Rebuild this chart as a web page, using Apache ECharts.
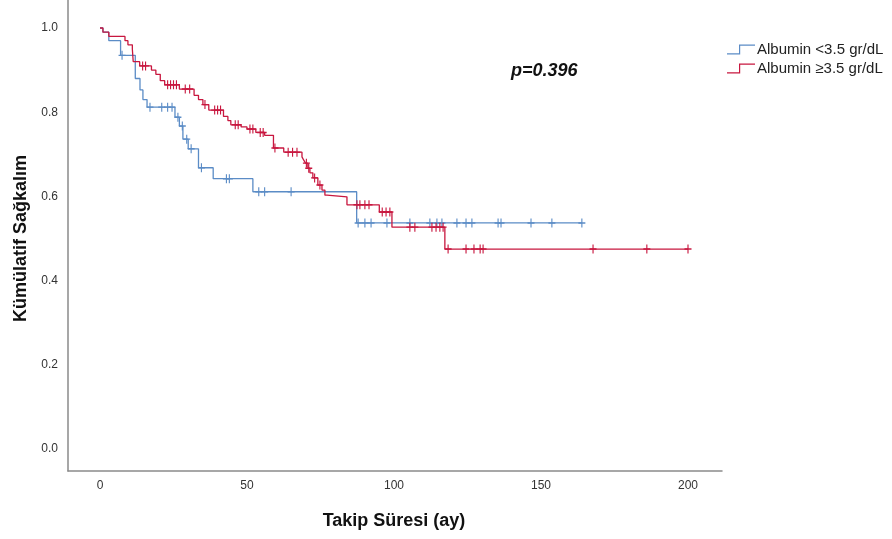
<!DOCTYPE html>
<html>
<head>
<meta charset="utf-8">
<script src="https://cdn.jsdelivr.net/npm/echarts@6/dist/echarts.min.js"></script>
<style>
html,body{margin:0;padding:0;background:#fff;}
#chart{width:892px;height:539px;}
</style>
</head>
<body>
<div id="chart"></div>
<script>
// ---- data ----
const seriesNames = ['Albumin <3.5 gr/dL', 'Albumin \u22653.5 gr/dL'];
const xTicks = [0, 50, 100, 150, 200];
const yTicks = [0.0, 0.2, 0.4, 0.6, 0.8, 1.0];

const blueTimes = [0, 1, 3, 7, 12, 13.6, 14.6, 16, 25.5, 27, 28.2, 30, 33.5, 38.5, 52, 87.3];
const blueSurv  = [1.0, 0.99, 0.97, 0.935, 0.88, 0.853, 0.83, 0.812, 0.788, 0.767, 0.736, 0.713, 0.668, 0.642, 0.611, 0.537];
const blueCensor = [7.5, 17, 21, 23, 24.5, 26.5, 28, 29.5, 31, 34.5, 43, 44, 54, 56, 65, 87.8, 90.1, 92.2, 97.6, 105.4, 112.2, 114.6, 116.3, 121.4, 124.5, 126.5, 135.4, 136.4, 146.6, 153.7, 163.9];

const redTimes = [0, 1, 3, 8.5, 9.5, 11, 11.3, 13.5, 17.5, 19, 20.5, 22, 27, 32, 33.5, 35, 37, 42, 43.5, 44.5, 48, 50, 53, 56, 59, 62.5, 68.7, 69.3, 69.9, 70.7, 71.4, 72.4, 74.1, 75.5, 76.5, 77.2, 84, 95, 99.3, 117.3];
const redSurv  = [1.0, 0.99, 0.98, 0.97, 0.96, 0.95, 0.92, 0.91, 0.90, 0.89, 0.875, 0.865, 0.855, 0.84, 0.83, 0.818, 0.805, 0.79, 0.78, 0.77, 0.765, 0.76, 0.752, 0.745, 0.715, 0.705, 0.694, 0.686, 0.679, 0.667, 0.656, 0.644, 0.627, 0.615, 0.603, 0.599, 0.58, 0.563, 0.527, 0.475];
const redCensor = [14.5, 15.5, 23, 24, 25, 26, 29, 30.5, 35.7, 39, 40, 41, 46, 47, 51, 52, 54.5, 55.5, 59.5, 64, 65.5, 67, 70.2, 71, 73, 74.8, 87.4, 88.4, 90.1, 91.5, 96, 97.3, 98.6, 105.4, 107.1, 112.9, 114.3, 115.6, 116.7, 118.4, 124.5, 127.2, 129.3, 130.3, 167.7, 186, 200];

const pText = 'p=0.396';

// ---- helpers ----
function stepValue(times, surv, t) {
  let v = surv[0];
  for (let i = 0; i < times.length; i++) { if (times[i] <= t) v = surv[i]; }
  return v;
}
function curve(times, surv, censor) {
  const pts = times.map((t, i) => [t, surv[i]]);
  const last = censor[censor.length - 1];
  pts.push([last, stepValue(times, surv, last)]);
  return pts;
}
function censorPts(times, surv, censor) {
  return censor.map(t => [t, stepValue(times, surv, t)]);
}

const BLUE = '#5b8cc6';
const RED = '#c8173f';
const plus = 'path://M4.2,0H5.8V4.2H10V5.8H5.8V10H4.2V5.8H0V4.2H4.2Z';
const legendIcon = 'path://M0,8.8H12V0H28V1.2H13.2V10H0Z';
const FONT = '"Liberation Sans", Arial, sans-serif';

const chart = echarts.init(document.getElementById('chart'), null, {renderer: 'canvas'});
chart.setOption({
  animation: false,
  backgroundColor: '#fff',
  grid: [
    {left: 68, right: 170, top: 0, bottom: 68},
    {left: 100, right: 204, top: 28, bottom: 90}
  ],
  xAxis: [
    {gridIndex: 0, type: 'value', min: 0, max: 1, axisLine: {show: true, onZero: false, lineStyle: {color: '#8a8a8a', width: 1.5}},
     axisTick: {show: false}, axisLabel: {show: false}, splitLine: {show: false}},
    {gridIndex: 1, type: 'value', min: 0, max: 200, interval: 50,
     axisLine: {show: false}, axisTick: {show: false}, splitLine: {show: false},
     axisLabel: {margin: 31, fontSize: 12, color: '#333', fontFamily: FONT, formatter: v => xTicks.includes(v) ? String(v) : ''},
     name: 'Takip S\u00fcresi (ay)', nameLocation: 'middle', nameGap: 63,
     nameTextStyle: {fontSize: 18, fontWeight: 'bold', color: '#111', fontFamily: FONT}}
  ],
  yAxis: [
    {gridIndex: 0, type: 'value', min: 0, max: 1, axisLine: {show: true, onZero: false, lineStyle: {color: '#8a8a8a', width: 1.5}},
     axisTick: {show: false}, axisLabel: {show: false}, splitLine: {show: false}},
    {gridIndex: 1, type: 'value', min: 0, max: 1, interval: 0.2,
     axisLine: {show: false}, axisTick: {show: false}, splitLine: {show: false},
     axisLabel: {margin: 42, fontSize: 12, color: '#333', fontFamily: FONT, formatter: v => v.toFixed(1)},
     name: 'K\u00fcm\u00fclatif Sa\u011fkal\u0131m', nameLocation: 'middle', nameGap: 70,
     nameTextStyle: {fontSize: 18, fontWeight: 'bold', color: '#111', fontFamily: FONT}}
  ],
  legend: {
    orient: 'vertical', left: 722, top: 37, itemWidth: 28, itemHeight: 10, itemGap: 4,
    data: [{name: seriesNames[0], icon: legendIcon}, {name: seriesNames[1], icon: legendIcon}],
    textStyle: {fontSize: 15, color: '#222', fontFamily: FONT, padding: [0, 0, 0, -3]}
  },
  graphic: [{
    type: 'text', left: 511, top: 62,
    style: {text: pText, font: 'italic bold 18px "Liberation Sans", Arial, sans-serif', fill: '#111'}
  }],
  series: [
    {name: seriesNames[0], type: 'line', xAxisIndex: 1, yAxisIndex: 1, step: 'end', showSymbol: false, symbol: 'none', clip: false,
     data: curve(blueTimes, blueSurv, blueCensor), lineStyle: {color: BLUE, width: 1.3}, itemStyle: {color: BLUE}, z: 2},
    {name: seriesNames[1], type: 'line', xAxisIndex: 1, yAxisIndex: 1, step: 'end', showSymbol: false, symbol: 'none', clip: false,
     data: curve(redTimes, redSurv, redCensor), lineStyle: {color: RED, width: 1.3}, itemStyle: {color: RED}, z: 3},
    {name: seriesNames[0], type: 'scatter', xAxisIndex: 1, yAxisIndex: 1, symbol: plus, symbolSize: [7, 9], clip: false,
     data: censorPts(blueTimes, blueSurv, blueCensor), itemStyle: {color: BLUE, opacity: 1}, z: 2},
    {name: seriesNames[1], type: 'scatter', xAxisIndex: 1, yAxisIndex: 1, symbol: plus, symbolSize: [7, 9], clip: false,
     data: censorPts(redTimes, redSurv, redCensor), itemStyle: {color: RED, opacity: 1}, z: 3}
  ]
});
</script>
</body>
</html>
